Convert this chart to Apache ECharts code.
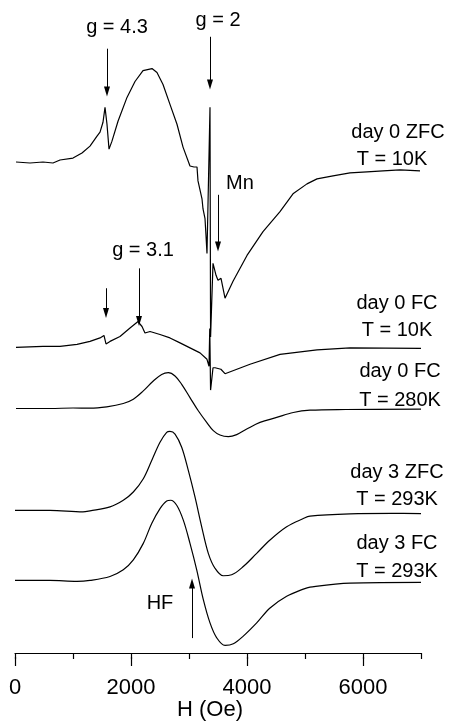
<!DOCTYPE html>
<html>
<head>
<meta charset="utf-8">
<script src="https://cdn.jsdelivr.net/npm/echarts@6/dist/echarts.min.js"></script>
<style>html,body{margin:0;padding:0;background:#fff}#c{width:452px;height:726px}</style>
</head>
<body>
<div id="c"></div>
<script>
// H (Oe) axis
const xTicks = [0, 2000, 4000, 6000];

// Trace 1: day 0 ZFC, T = 10K
const t1H = [17,259,483,655,776,1000,1155,1293,1414,1466,1517,1552,1586,1621,1672,1776,1931,2069,2207,2362,2448,2552,2672,2793,2897,3017,3086,3138,3155,3224,3241,3276,3293,3310,3340,3362,3372,3414,3466,3500,3552,3586,3621,3759,4000,4276,4569,4793,5034,5207,5483,5776,6069,6345,6638,6983];
const t1Y = [0,-1,0,-1,2,4,9,16,26,30,40,55,38,13,21,41,65,81,92,94,90,78,58,38,15,-4,-5,-5,-19,-37,-47,-57,-74,-92,-94,55,-176,-102,-114,-119,-117,-127,-137,-120,-94,-70,-50,-32,-22,-17,-14,-11,-10,-9,-8,-9];
// Trace 2: day 0 FC, T = 10K
const t2H = [17,483,776,1069,1293,1466,1534,1569,1638,1810,1983,2121,2190,2241,2328,2500,2672,2845,3017,3190,3310,3345,3358,3372,3414,3450,3550,3621,4052,4569,5207,5776,7000];
const t2Y = [-1,0,0,2,5,8.5,11,2.5,5,10,18.5,25,20,13.5,15,12,8.5,3.5,-1.5,-6.5,-13,-20,18,-44,-21.5,-21.5,-23,-27.5,-18,-8,-3.5,-1.5,-2];
// Trace 3: day 0 FC, T = 280K
const t3H = [17,603,1000,1293,1581,1867,2040,2212,2384,2529,2643,2759,2874,3017,3160,3305,3419,3534,3678,3822,3995,4224,4512,4798,5086,5700,7000];
const t3Y = [0,0,0.5,0.3,1.7,5,9.3,17.7,27.7,34.3,36,32.7,24.3,11,-2.3,-14,-22.3,-26.7,-28.3,-26.3,-20.7,-14,-9,-4,-1.7,-1,-0.7];
// Trace 4: day 3 ZFC, T = 293K
const t4H = [0,603,1172,1293,1638,1867,2040,2212,2357,2500,2615,2672,2759,2874,2988,3103,3219,3333,3448,3591,3736,3936,4167,4397,4684,4971,5086,5776,6500,7000];
const t4Y = [0,0,-1.5,-0.5,3.5,10.2,18.5,31.8,50.2,68.5,78.5,79.5,76.8,63.5,40.2,13.5,-16.5,-43.2,-58.2,-65.8,-64.8,-56.5,-43.2,-29.8,-16.5,-8.2,-5.8,-3.5,-3,-3.2];
// Trace 5: day 3 FC, T = 293K
const t5H = [0,603,1069,1293,1638,1867,2040,2212,2357,2500,2615,2684,2788,2902,3017,3133,3247,3362,3478,3621,3764,3936,4167,4397,4684,4971,5086,5776,7000];
const t5Y = [0,0,-1,0,4,10.7,20.7,37.3,57.3,72.3,80,80.7,75.7,60.7,37.3,10.7,-19.3,-42.7,-57.7,-65.3,-63.7,-56,-42.7,-27.7,-16,-8.7,-6.7,-2.7,-2];
// vertical offsets of the stacked spectra
const offsets = [494, 308.5, 246, 143.5, 73];

const traceLabels = [
  ['day 0 ZFC', 'T = 10K'],
  ['day 0 FC', 'T = 10K'],
  ['day 0 FC', 'T = 280K'],
  ['day 3 ZFC', 'T = 293K'],
  ['day 3 FC', 'T = 293K']
];

// annotation layout (data coordinates)
const labelPos = [
  [[6603, 524], [6500, 497]],
  [[6586, 352], [6586, 324]],
  [[6638, 283], [6638, 254]],
  [[6586, 182], [6586, 154]],
  [[6586, 110], [6586, 82]]
];
const notes = [
  {text: 'g = 4.3', at: [1759, 629]},
  {text: 'g = 2', at: [3500, 636]},
  {text: 'Mn', at: [3879, 472]},
  {text: 'g = 3.1', at: [2207, 405]},
  {text: 'HF', at: [2500, 50]}
];
const arrows = [
  [[1586, 608], [1586, 565]],
  [[3362, 620], [3362, 572]],
  [[3500, 461], [3500, 409]],
  [[1569, 367], [1569, 342]],
  [[2138, 387], [2138, 334]],
  [[3052, 15], [3052, 70]]
];

const FONT = 'Liberation Sans, Arial, Helvetica, sans-serif';
const traces = [[t1H,t1Y],[t2H,t2Y],[t3H,t3Y],[t4H,t4Y],[t5H,t5Y]];

const series = traces.map((t, i) => ({
  type: 'line',
  xAxisIndex: 0, yAxisIndex: 0,
  data: t[0].map((h, k) => [h, t[1][k] + offsets[i]]),
  showSymbol: false,
  smooth: i >= 2 ? 0.35 : false,
  lineStyle: {color: '#000', width: 1.2},
  animation: false,
  silent: true
}));

const mpData = [];
traceLabels.forEach((pair, i) => {
  pair.forEach((txt, j) => mpData.push({name: txt, coord: labelPos[i][j]}));
});
notes.forEach(n => mpData.push({name: n.text, coord: n.at}));

series.push({
  type: 'line',
  xAxisIndex: 0, yAxisIndex: 0,
  data: [],
  animation: false,
  silent: true,
  markPoint: {
    symbol: 'circle', symbolSize: 0,
    animation: false,
    label: {show: true, position: 'inside', formatter: p => p.name,
      color: '#000', fontSize: 20, fontFamily: FONT},
    data: mpData
  },
  markLine: {
    symbol: ['none', 'triangle'], symbolSize: [6, 10],
    animation: false,
    label: {show: false},
    lineStyle: {color: '#000', width: 1, type: 'solid'},
    itemStyle: {color: '#000'},
    emphasis: {disabled: true},
    data: arrows.map(a => [{coord: a[0]}, {coord: a[1]}])
  }
});

const chart = echarts.init(document.getElementById('c'));
chart.setOption({
  backgroundColor: '#fff',
  animation: false,
  grid: [
    {left: 15, right: 31, top: 0, bottom: 69},
    {left: 15, width: 348, top: 0, bottom: 69}
  ],
  xAxis: [
    {type: 'value', gridIndex: 0, min: 0, max: 7000, interval: 1000,
     axisLine: {show: true, lineStyle: {color: '#000', width: 1}},
     axisTick: {show: true, length: 6, lineStyle: {color: '#000', width: 1.2}},
     axisLabel: {show: false}, splitLine: {show: false},
     name: 'H (Oe)', nameLocation: 'middle', nameGap: 46,
     nameTextStyle: {color: '#000', fontSize: 22, fontFamily: FONT, padding: [0, 16, 0, 0]}},
    {type: 'value', gridIndex: 1, min: 0, max: 6000, interval: 2000,
     axisLine: {show: false},
     axisTick: {show: true, length: 9, lineStyle: {color: '#000', width: 1.2}},
     axisLabel: {show: true, color: '#000', fontSize: 22, fontFamily: FONT, margin: 20,
       formatter: v => xTicks.includes(v) ? String(v) : ''},
     splitLine: {show: false}}
  ],
  yAxis: [
    {type: 'value', gridIndex: 0, min: 0, max: 657, show: false},
    {type: 'value', gridIndex: 1, min: 0, max: 657, show: false}
  ],
  series: series
});
</script>
</body>
</html>
